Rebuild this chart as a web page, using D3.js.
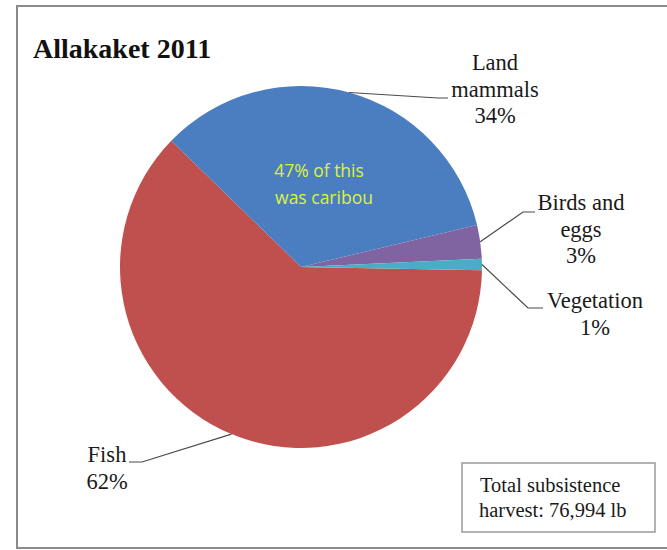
<!DOCTYPE html>
<html>
<head>
<meta charset="utf-8">
<script src="https://cdn.jsdelivr.net/npm/d3@7/dist/d3.min.js"></script>
<style>
  html, body { margin: 0; padding: 0; background: #fff; }
  svg { display: block; }
</style>
</head>
<body>
<svg id="chart" width="667" height="550"></svg>
<script>
// Harvest composition, Allakaket 2011 (percent of total pounds)
const title = "Allakaket 2011";
const categories = ["Fish", "Land mammals", "Birds and eggs", "Vegetation"];
const percents = [62, 34, 3, 1];
const labelLines = [["Fish"], ["Land", "mammals"], ["Birds and", "eggs"], ["Vegetation"]];
const colors = ["#c0504d", "#4a7ec0", "#8064a2", "#4bacc6"];
const caribouShare = 47;
const totalHarvestLb = 76994;

const W = 667, H = 550;
const cx = 301, cy = 267, R = 181;
const serif = "'Liberation Serif', 'Times New Roman', serif";

// label placement: text centre x, first baseline, leader elbow and end
const labelLayout = {
  "Fish":           { x: 107, y: 462, elbow: [142, 462], end: [129, 462] },
  "Land mammals":   { x: 495, y: 70,  elbow: [438, 98],  end: [448, 98] },
  "Birds and eggs": { x: 581, y: 210, elbow: [523, 212], end: [535, 212] },
  "Vegetation":     { x: 595, y: 308, elbow: [528, 308], end: [543, 308] }
};
const lineGap = 26.5;

const svg = d3.select("#chart");

// outer frame
svg.append("rect")
  .attr("x", 17).attr("y", 6)
  .attr("width", W + 10).attr("height", 542)
  .attr("fill", "#fff")
  .attr("stroke", "#8a8a8a").attr("stroke-width", 2);

svg.append("text")
  .attr("x", 33).attr("y", 58)
  .attr("font-family", serif).attr("font-weight", "bold")
  .attr("font-size", 28).attr("fill", "#111")
  .text(title);

const startA = 91 * Math.PI / 180;
const pie = d3.pie().sort(null).value(d => d.value)
  .startAngle(startA).endAngle(startA + 2 * Math.PI);
const data = categories.map((c, i) => ({ name: c, value: percents[i], color: colors[i], lines: labelLines[i] }));
const arcs = pie(data);
const arc = d3.arc().innerRadius(0).outerRadius(R);

const g = svg.append("g").attr("transform", `translate(${cx},${cy})`);
g.selectAll("path.slice")
  .data(arcs)
  .join("path")
  .attr("class", "slice")
  .attr("d", arc)
  .attr("fill", d => d.data.color);

// leader lines from the slice's outer mid-point to its label
const leader = d3.line();
arcs.forEach(d => {
  const mid = (d.startAngle + d.endAngle) / 2;
  const p0 = [cx + R * Math.sin(mid), cy - R * Math.cos(mid)];
  const L = labelLayout[d.data.name];
  svg.append("path")
    .attr("d", leader([p0, L.elbow, L.end]))
    .attr("fill", "none")
    .attr("stroke", "#4a4a4a").attr("stroke-width", 1.2);

  const t = svg.append("text")
    .attr("font-family", serif).attr("font-size", 22.5)
    .attr("fill", "#1a1a1a").attr("text-anchor", "middle");
  const lines = d.data.lines.concat([d.data.value + "%"]);
  lines.forEach((s, i) => {
    t.append("tspan").attr("x", L.x).attr("y", L.y + i * lineGap).text(s);
  });
});

// note inside the land mammals slice
const note = svg.append("text")
  .attr("font-family", "'Open Sans', 'Noto Sans', sans-serif")
  .attr("font-size", 17.5).attr("fill", "#dff23a")
  .attr("text-anchor", "middle");
note.append("tspan").attr("x", 319).attr("y", 177).text(caribouShare + "% of this");
note.append("tspan").attr("x", 324).attr("y", 204).text("was caribou");

// total harvest box
svg.append("rect")
  .attr("x", 462).attr("y", 463).attr("width", 193).attr("height", 69)
  .attr("fill", "#fff").attr("stroke", "#9a9a9a").attr("stroke-width", 1.5);
const tot = svg.append("text")
  .attr("font-family", serif).attr("font-size", 20.5)
  .attr("fill", "#1a1a1a");
tot.append("tspan").attr("x", 480).attr("y", 492).text("Total subsistence");
tot.append("tspan").attr("x", 479).attr("y", 517).text("harvest: " + d3.format(",")(totalHarvestLb) + " lb");
</script>
</body>
</html>
